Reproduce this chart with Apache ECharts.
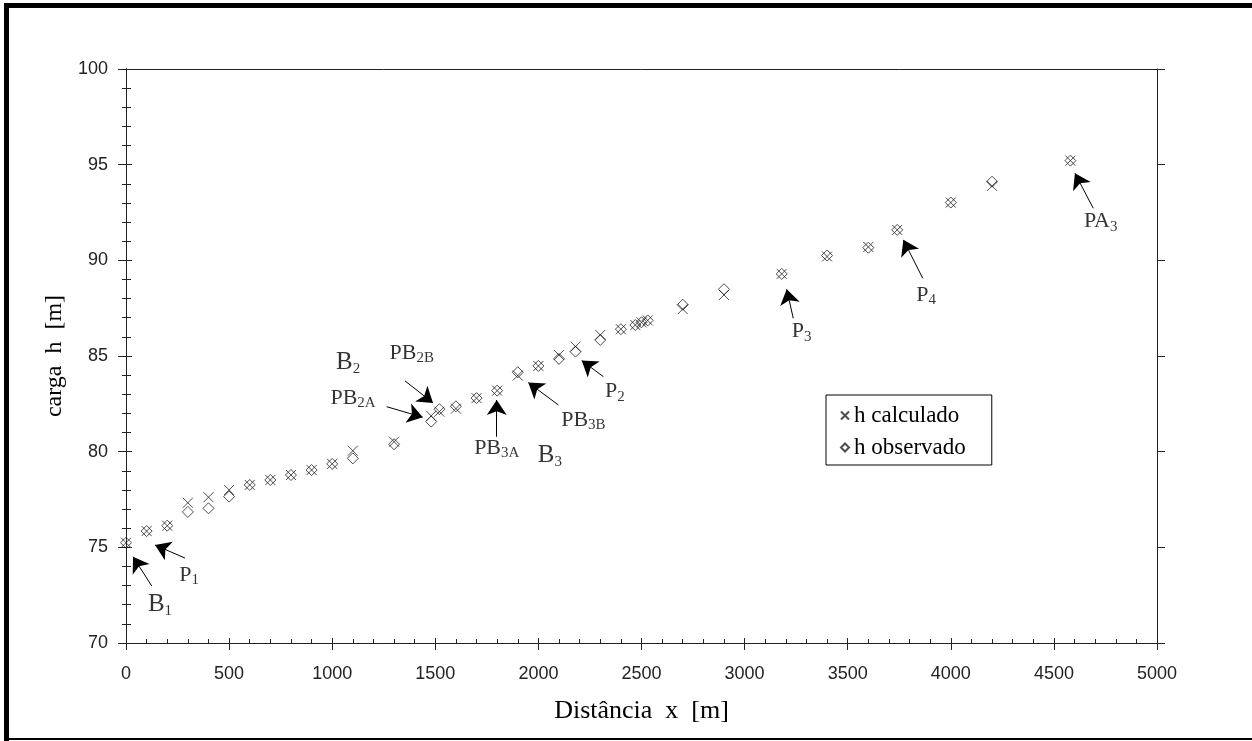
<!DOCTYPE html>
<html>
<head>
<meta charset="utf-8">
<script src="https://cdn.jsdelivr.net/npm/echarts@6/dist/echarts.min.js"></script>
<style>
  html, body { margin: 0; padding: 0; background: #fff; }
  #chart { width: 1252px; height: 741px; }
</style>
</head>
<body>
<div id="chart"></div>
<script>
// distance x [m] of each measured / computed point
var distances = [0, 100, 200, 300, 400, 500, 600, 700, 800, 900, 1000, 1100, 1300, 1480, 1520, 1600, 1700, 1800,
    1900, 2000, 2100, 2180, 2300, 2400, 2470, 2500, 2530, 2700, 2900, 3180, 3400, 3600, 3740, 4000, 4200, 4580]
// carga h [m]
var hCalculado = [75.24, 75.85, 76.13, 77.33, 77.62, 78.0, 78.26, 78.52, 78.78, 79.04, 79.36, 80.05, 80.52, 81.87, 82.09, 82.25, 82.8, 83.19,
    83.98, 84.48, 85.05, 85.49, 86.1, 86.4, 86.62, 86.76, 86.86, 87.45, 88.19, 89.29, 90.2, 90.7, 91.59, 93.02, 93.89, 95.21]
var hObservado = [75.24, 75.85, 76.13, 76.85, 77.04, 77.65, 78.26, 78.52, 78.78, 79.04, 79.36, 79.65, 80.39, 81.57, 82.22, 82.37, 82.8, 83.19,
    84.15, 84.48, 84.85, 85.23, 85.84, 86.4, 86.62, 86.76, 86.86, 87.68, 88.49, 89.29, 90.25, 90.66, 91.59, 93.02, 94.11, 95.21]

// annotation labels: [x, h, main text, subscript, large letter]
var labelPos = [
    [165, 71.99, 'B', '1', true],
    [306, 73.55, 'P', '1', false],
    [1077, 84.64, 'B', '2', true],
    [1386, 85.16, 'PB', '2B', false],
    [1101, 82.81, 'PB', '2A', false],
    [1798, 80.18, 'PB', '3A', false],
    [2056, 79.78, 'B', '3', true],
    [2218, 81.66, 'PB', '3B', false],
    [2371, 83.14, 'P', '2', false],
    [3277, 86.27, 'P', '3', false],
    [3880, 88.19, 'P', '4', false],
    [4727, 92.02, 'PA', '3', false]
]
// arrows: [x tail, h tail, x head, h head]
var arrows = [
    [125, 72.98, 34, 74.51],
    [286, 74.44, 141, 75.12],
    [1353, 83.70, 1489, 82.55],
    [1264, 82.35, 1439, 81.80],
    [1798, 80.78, 1798, 82.70],
    [2097, 82.44, 1951, 83.61],
    [2315, 83.92, 2210, 84.76],
    [3236, 86.97, 3204, 88.49],
    [3864, 89.06, 3770, 91.07],
    [4691, 92.72, 4602, 94.55]
]

var serif = '"Liberation Serif", "Times New Roman", serif'
var sans = '"Liberation Sans", Arial, sans-serif'
var crossPath = 'path://M0,0L10,10M10,0L0,10'
var diamondPath = 'path://M5,0L10,5L5,10L0,5Z'

function pairs(xs, ys) {
    return xs.map(function (x, i) { return [x, ys[i]] })
}

var chart = echarts.init(document.getElementById('chart'))

var axisLine = { show: true, lineStyle: { color: '#222', width: 1 } }
var gridBox = { left: 126, right: 95, top: 69, bottom: 98 }
var plain = function (v) { return String(v) }

var option = {
    backgroundColor: '#fff',
    animation: false,
    grid: gridBox,
    legend: {
        data: ['h calculado', 'h observado'],
        orient: 'vertical',
        left: 826,
        top: 395,
        borderColor: '#000',
        borderWidth: 1,
        padding: [9, 26, 6, 14],
        itemGap: 9,
        itemWidth: 8,
        itemHeight: 8,
        textStyle: { fontFamily: serif, fontSize: 23, color: '#000' }
    },
    xAxis: [
        {
            type: 'value', position: 'bottom', min: 0, max: 5000, interval: 500,
            name: 'Distância  x  [m]', nameLocation: 'middle', nameGap: 55,
            nameTextStyle: { fontFamily: serif, fontSize: 26, color: '#000' },
            axisLine: axisLine,
            axisTick: { show: true, inside: true, length: 5, lineStyle: { color: '#222' } },
            minorTick: { show: true, splitNumber: 5, length: 4, lineStyle: { color: '#222' } },
            axisLabel: { margin: 22, fontFamily: sans, fontSize: 18, color: '#222', formatter: plain },
            splitLine: { show: false }
        },
        {
            type: 'value', position: 'bottom', min: 0, max: 5000, interval: 500,
            axisLine: axisLine,
            axisTick: { show: true, inside: false, length: 7, lineStyle: { color: '#222' } },
            axisLabel: { show: false }, splitLine: { show: false }
        },
        {
            type: 'value', position: 'top', min: 0, max: 5000, interval: 500,
            axisLine: axisLine, axisTick: { show: false },
            axisLabel: { show: false }, splitLine: { show: false }
        }
    ],
    yAxis: [
        {
            type: 'value', position: 'left', min: 70, max: 100, interval: 5,
            name: 'carga  h  [m]', nameLocation: 'middle', nameGap: 55,
            nameTextStyle: { fontFamily: serif, fontSize: 24, color: '#000' },
            axisLine: axisLine,
            axisTick: { show: true, inside: true, length: 6, lineStyle: { color: '#222' } },
            minorTick: { show: true, splitNumber: 5, length: 5, lineStyle: { color: '#222' } },
            axisLabel: { margin: 18, fontFamily: sans, fontSize: 18, color: '#222', formatter: plain },
            splitLine: { show: false }
        },
        {
            type: 'value', position: 'left', min: 70, max: 100, interval: 5,
            axisLine: axisLine,
            axisTick: { show: true, inside: false, length: 8, lineStyle: { color: '#222' } },
            axisLabel: { show: false }, splitLine: { show: false }
        },
        {
            type: 'value', position: 'right', min: 70, max: 100, interval: 5,
            axisLine: axisLine,
            axisTick: { show: true, inside: true, length: 4, lineStyle: { color: '#222' } },
            minorTick: { show: true, splitNumber: 5, length: 4, lineStyle: { color: '#222' } },
            axisLabel: { show: false }, splitLine: { show: false }
        },
        {
            type: 'value', position: 'right', min: 70, max: 100, interval: 5,
            axisLine: axisLine,
            axisTick: { show: true, inside: false, length: 8, lineStyle: { color: '#222' } },
            axisLabel: { show: false }, splitLine: { show: false }
        }
    ],
    graphic: [
        { type: 'rect', shape: { x: 4, y: 3, width: 5, height: 738 }, style: { fill: '#000' } },
        { type: 'rect', shape: { x: 4, y: 3, width: 1248, height: 5 }, style: { fill: '#000' } },
        { type: 'rect', shape: { x: 4, y: 738, width: 1248, height: 2 }, style: { fill: '#000' } }
    ],
    series: [
        {
            name: 'h calculado',
            type: 'scatter',
            symbol: crossPath,
            symbolSize: 10,
            itemStyle: { color: 'transparent', borderColor: '#222', borderWidth: 1 },
            data: pairs(distances, hCalculado),
            z: 3
        },
        {
            name: 'h observado',
            type: 'scatter',
            symbol: diamondPath,
            symbolSize: 11,
            itemStyle: { color: 'transparent', borderColor: '#222', borderWidth: 1 },
            data: pairs(distances, hObservado),
            z: 3
        },
        {
            name: 'arrows',
            type: 'lines',
            coordinateSystem: 'cartesian2d',
            symbol: ['none', 'arrow'],
            symbolSize: 15,
            lineStyle: { color: '#000', width: 1, opacity: 1 },
            data: arrows.map(function (a) { return { coords: [[a[0], a[1]], [a[2], a[3]]] } }),
            z: 4
        },
        {
            name: 'labels',
            type: 'scatter',
            symbol: 'circle',
            symbolSize: 0,
            itemStyle: { color: 'transparent' },
            silent: true,
            data: labelPos.map(function (l) {
                return { value: [l[0], l[1]], main: l[2], sub: l[3], big: l[4] }
            }),
            label: {
                show: true,
                position: 'inside',
                formatter: function (p) {
                    var m = p.data.big ? 'b' : 'm'
                    return '{' + m + '|' + p.data.main + '}{s|' + p.data.sub + '}'
                },
                rich: {
                    m: { fontFamily: serif, fontSize: 22, color: '#000', lineHeight: 25 },
                    b: { fontFamily: serif, fontSize: 25, color: '#000', lineHeight: 28 },
                    s: { fontFamily: serif, fontSize: 15, color: '#000', lineHeight: 12, verticalAlign: 'bottom' }
                }
            },
            z: 5
        }
    ]
}

chart.setOption(option)
</script>
</body>
</html>
